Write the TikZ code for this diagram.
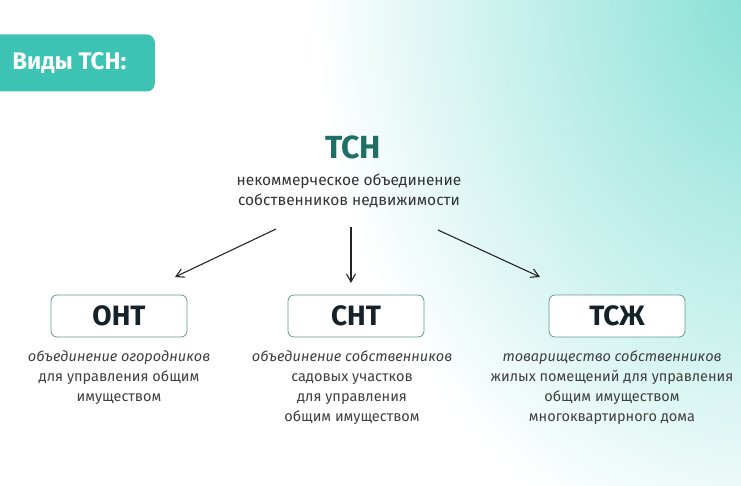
\documentclass[tikz,border=0pt]{standalone}
\usepackage{fontspec}
\setmainfont{Fira Sans}
\usetikzlibrary{arrows.meta}
\definecolor{teal1}{HTML}{3CC3B4}
\definecolor{tealbg}{HTML}{80DED3}
\definecolor{tealdark}{HTML}{1F6F67}
\definecolor{inkdark}{HTML}{15222A}
\tikzset{
  kindbox/.style={draw=tealdark!70, line width=0.8pt, rounded corners=6pt, fill=white,
    minimum width=136pt, minimum height=42pt, font=\fontsize{28}{30}\selectfont\bfseries, text=inkdark},
  desc/.style={align=center, font=\fontsize{14.5}{20}\selectfont, text=black!75},
  arr/.style={-{Straight Barb[length=8pt,width=9pt]}, line width=1.1pt, black!85}
}
\begin{document}
\begin{tikzpicture}[x=1pt,y=-1pt]
  % background
  \useasboundingbox (0,0) rectangle (741,486);
  \fill[white] (0,0) rectangle (741,486);
  \begin{scope}
    \clip (0,0) rectangle (741,486);
    \shade[inner color=tealbg, outer color=white] (780,-20) ellipse (470 and 600);
  \end{scope}
  % heading tag
  \node[fill=teal1, rounded corners=8pt, minimum width=175pt, minimum height=57pt,
    anchor=east, text=white, font=\fontsize{24}{26}\selectfont\bfseries, inner xsep=0pt]
    (tag) at (155,63) {\hspace*{4pt}Виды ТСН:};
  % root
  \node[text=tealdark, font=\fontsize{32}{34}\selectfont\bfseries] (tsn) at (353,147) {ТСН};
  \node[desc, font=\fontsize{15.5}{20}\selectfont, text=black!80] (tsndesc) at (349,191)
    {некоммерческое объединение\\собственников недвижимости};
  \coordinate (fromL) at (276,229);
  \coordinate (fromM) at (351,227);
  \coordinate (fromR) at (438,230);
  \coordinate (toL) at (175,277);
  \coordinate (toM) at (351,283);
  \coordinate (toR) at (540,277);
  % kinds
  \node[kindbox] (ont) at (119,316) {ОНТ};
  \node[kindbox] (snt) at (356,316) {СНТ};
  \node[kindbox] (tszh) at (617,316) {ТСЖ};
  \draw[arr] (fromL) -- (toL);
  \draw[arr] (fromM) -- (toM);
  \draw[arr] (fromR) -- (toR);
  % descriptions
  \node[desc, anchor=north] (ontdesc) at (119,347)
    {\itshape объединение огородников\\для управления общим\\имуществом};
  \node[desc, anchor=north] (sntdesc) at (352,347)
    {\itshape объединение собственников\\садовых участков\\для управления\\общим имуществом};
  \node[desc, anchor=north] (tszhdesc) at (612,347)
    {\itshape товарищество собственников\\жилых помещений для управления\\общим имуществом\\многоквартирного дома};
\end{tikzpicture}
\end{document}
